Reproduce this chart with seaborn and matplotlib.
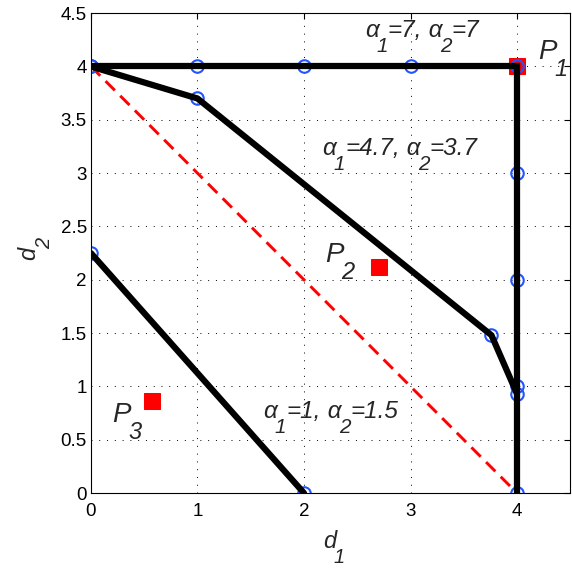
import matplotlib
matplotlib.use('Agg')
import matplotlib.pyplot as plt
from matplotlib.transforms import offset_copy, IdentityTransform
import seaborn as sns
import numpy as np

# boundary curves (d1, d2)
hi_d1 = [0, 4, 4]
hi_d2 = [4, 4, 0]
mid_d1 = [0, 1, 3.76, 4]
mid_d2 = [4, 3.7, 1.48, 0.93]
lo_d1 = [0, 2]
lo_d2 = [2.25, 0]

# sample points (blue circles) on the outer curve
hi_pts_d1 = [0, 1, 2, 3, 4, 4, 4, 4, 4]
hi_pts_d2 = [4, 4, 4, 4, 4, 3, 2, 1, 0]

# red dashed reference line
ref_d1 = [0, 4]
ref_d2 = [4, 0]

# points P1..P3
pts_d1 = [4, 2.7, 0.57]
pts_d2 = [4, 2.12, 0.86]

xticks = [0, 1, 2, 3, 4]
yticks = [0, 0.5, 1, 1.5, 2, 2.5, 3, 3.5, 4, 4.5]
ytick_labels = ['0', '0.5', '1', '1.5', '2', '2.5', '3', '3.5', '4', '4.5']

sns.set_style('white')
plt.rcParams['font.family'] = ['Liberation Sans', 'DejaVu Sans']

fig = plt.figure(figsize=(5.72, 5.72), dpi=100)
ax = fig.add_axes([0.159, 0.138, 0.838, 0.839])

blue = '#2255ff'

sns.lineplot(x=ref_d1, y=ref_d2, sort=False, estimator=None, color='red',
             lw=2.1, linestyle=(0, (4.5, 2.6)), ax=ax)
sns.lineplot(x=pts_d1, y=pts_d2, sort=False, estimator=None, linestyle='none',
             marker='s', ms=12, color='red', mec='red', ax=ax)

circ = dict(sort=False, estimator=None, linestyle='none', marker='o', ms=9,
            mfc='none', mec=blue, mew=1.5, ax=ax)
sns.lineplot(x=hi_pts_d1, y=hi_pts_d2, **circ)
sns.lineplot(x=mid_d1, y=mid_d2, **circ)
sns.lineplot(x=lo_d1, y=lo_d2, **circ)

for xs, ys in [(hi_d1, hi_d2), (mid_d1, mid_d2), (lo_d1, lo_d2)]:
    sns.lineplot(x=xs, y=ys, sort=False, estimator=None, color='black',
                 lw=4.5, solid_joinstyle='miter', ax=ax)


# matlab-like text: subscripts almost full size and dropped well below
def rich_text(x, y, parts, size, transform, rot=0, style='italic'):
    r = fig.canvas.get_renderer()
    adv = 0.0
    px = fig.dpi / 72
    for s, sub in parts:
        fs = size * 0.85 if sub else size
        drop = size * 0.62 * px if sub else 0
        if sub:
            adv -= size * 0.1 * px
        ox, oy = (adv, -drop) if rot == 0 else (drop, adv)
        tr = offset_copy(transform, fig=fig, x=ox, y=oy, units='dots')
        t = ax.text(x, y, s, transform=tr, fontsize=fs, rotation=rot,
                    ha='left', va='baseline', rotation_mode='anchor',
                    style=style, clip_on=False)
        bb = t.get_window_extent(r)
        adv += bb.width if rot == 0 else bb.height


a_size = 17.5
rich_text(2.57, 4.28, [('α', 0), ('1', 1), ('=7,', 0), (' α', 0), ('2', 1), ('=7', 0)],
          a_size, ax.transData)
rich_text(2.17, 3.17, [('α', 0), ('1', 1), ('=4.7,', 0), (' α', 0), ('2', 1), ('=3.7', 0)],
          a_size, ax.transData)
rich_text(1.62, 0.70, [('α', 0), ('1', 1), ('=1,', 0), (' α', 0), ('2', 1), ('=1.5', 0)],
          a_size, ax.transData)

p_size = 20
rich_text(4.2, 4.07, [('P', 0), ('1', 1)], p_size, ax.transData)
rich_text(2.2, 2.17, [('P', 0), ('2', 1)], p_size, ax.transData)
rich_text(0.2, 0.67, [('P', 0), ('3', 1)], p_size, ax.transData)

# axis labels (pixel positions in the figure)
rich_text(323, 24, [('d', 0), ('1', 1)], 17, IdentityTransform())
rich_text(35, 312, [('d', 0), ('2', 1)], 17, IdentityTransform(), rot=90)

ax.set_xlim(0, 4.5)
ax.set_ylim(0, 4.5)
ax.set_xticks(xticks)
ax.set_yticks(yticks)
ax.set_yticklabels(ytick_labels)
ax.grid(True, color='black', linestyle=(0, (1, 7)), lw=0.7)
ax.tick_params(direction='in', top=True, right=True, labelsize=13.5, length=4,
               colors='black')
ax.tick_params(axis='x', pad=7)
ax.tick_params(axis='y', pad=3)
for s in ax.spines.values():
    s.set_color('black')
    s.set_linewidth(0.8)
ax.set_xlabel('')
ax.set_ylabel('')
ax.set_axisbelow(True)

fig.savefig('out.png', dpi=100)
